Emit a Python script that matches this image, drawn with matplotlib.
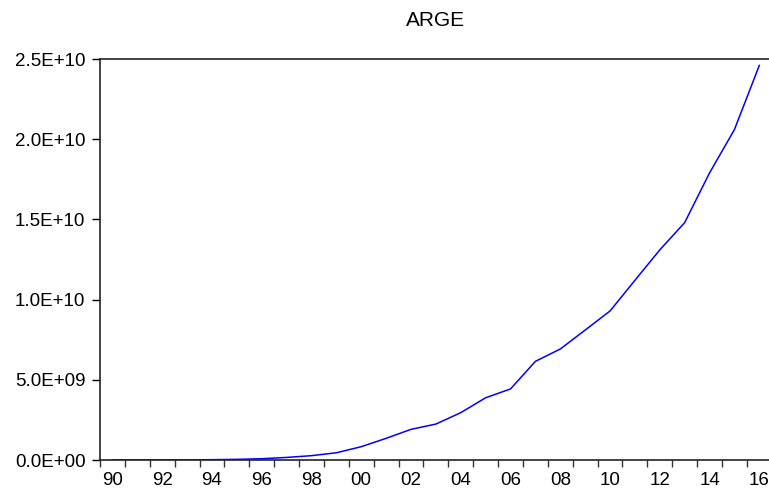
import matplotlib
matplotlib.use("Agg")
import matplotlib.pyplot as plt
from matplotlib.ticker import FuncFormatter, FixedLocator

plt.rcParams['font.family'] = ['Liberation Sans', 'DejaVu Sans']

# valeurs (ARGE, annuel)
annees = list(range(1990, 2017))
arge = [
    0.002e9, 0.003e9, 0.005e9, 0.01e9, 0.02e9, 0.04e9, 0.08e9, 0.16e9,
    0.27e9, 0.45e9, 0.83e9, 1.35e9, 1.91e9, 2.24e9, 2.95e9, 3.88e9,
    4.43e9, 6.15e9, 6.92e9, 8.10e9, 9.29e9, 11.2e9, 13.1e9, 14.8e9,
    17.9e9, 20.6e9, 24.6e9,
]
etiquettes = ["90", "92", "94", "96", "98", "00", "02", "04",
              "06", "08", "10", "12", "14", "16"]
graduations_y = [0, 5e9, 1e10, 1.5e10, 2e10, 2.5e10]

fig = plt.figure(figsize=(7.69, 4.90), dpi=100)
ax = fig.add_axes([100 / 769, 30 / 490, 669 / 769, 401 / 490])

ax.plot(annees, arge, color='#0000ff', linewidth=1.1)

ax.set_xlim(1989.5, 1989.5 + 669 / 24.88)
ax.set_ylim(0, 2.5e10)

# graduations aux limites d'annees, etiquettes au centre
ax.xaxis.set_major_locator(FixedLocator([1989.5 + k for k in range(28)]))
ax.xaxis.set_major_formatter(FuncFormatter(lambda v, p: ""))
ax.xaxis.set_minor_locator(FixedLocator(list(range(1990, 2017, 2))))
ax.xaxis.set_minor_formatter(FuncFormatter(
    lambda v, p: etiquettes[(int(round(v)) - 1990) // 2]))
ax.tick_params(axis='x', which='major', direction='out', length=5,
               width=1, color='#333333')
ax.tick_params(axis='x', which='minor', length=0, pad=8.5, labelsize=13.5)

ax.set_yticks(graduations_y)
ax.yaxis.set_major_formatter(FuncFormatter(lambda v, p: f"{v:.1E}"))
ax.tick_params(axis='y', direction='out', length=6, width=1,
               labelsize=13.5, pad=4.5)

for cote in ['left', 'top', 'bottom']:
    ax.spines[cote].set_linewidth(1.2)
    ax.spines[cote].set_color('#222222')
ax.spines['right'].set_visible(False)

fig.text(436 / 769, 1 - 20 / 490, "ARGE", ha='center', va='center',
         fontsize=15)

fig.savefig("out.png", dpi=100)
